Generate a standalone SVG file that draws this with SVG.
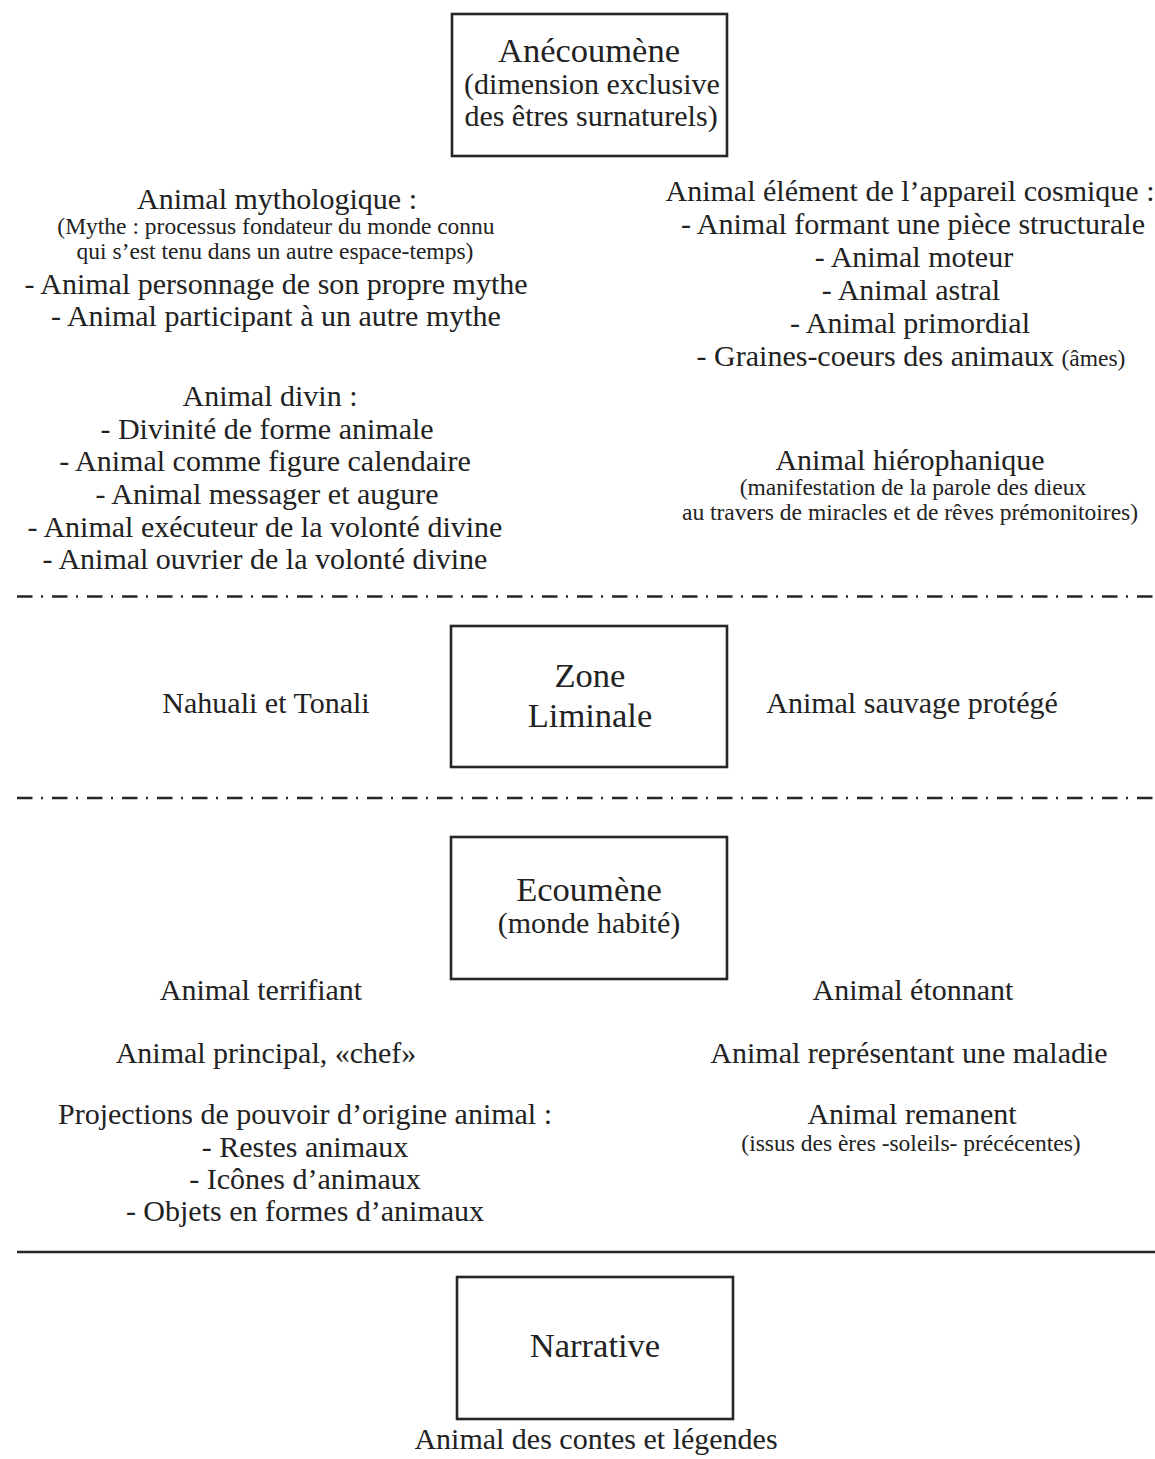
<svg xmlns="http://www.w3.org/2000/svg" width="1155" height="1459" viewBox="0 0 1155 1459">
<style>
  text { font-family: "Liberation Serif", "Times New Roman", serif; fill: #222; text-anchor: middle; }
  .t { font-size: 30px; }
  .h { font-size: 34.5px; }
  .s { font-size: 23.5px; }
  .box { fill: none; stroke: #262626; stroke-width: 2.6; }
  .dash { stroke: #262626; stroke-width: 2.6; stroke-dasharray: 15.5 8.5 2 9; fill: none; }
  .solid { stroke: #262626; stroke-width: 2.6; fill: none; }
</style>
<rect width="1155" height="1459" fill="#fff"/>

<g id="connectors">
  <line class="dash" x1="17" y1="596.5" x2="1155" y2="596.5"/>
  <line class="dash" x1="17" y1="798" x2="1155" y2="798"/>
  <line class="solid" x1="17" y1="1252" x2="1155" y2="1252"/>
</g>

<g id="anecoumene">
  <rect class="box" x="452" y="14" width="275" height="142"/>
  <text class="h" x="589" y="62">Anécoumène</text>
  <text class="t" x="592" y="94">(dimension exclusive</text>
  <text class="t" x="591" y="126">des êtres surnaturels)</text>
</g>

<g id="animal-mythologique">
  <text class="t" x="277" y="209">Animal mythologique :</text>
  <text class="s" x="276" y="234">(Mythe : processus fondateur du monde connu</text>
  <text class="s" x="275" y="259">qui s’est tenu dans un autre espace-temps)</text>
  <text class="t" x="276" y="294">- Animal personnage de son propre mythe</text>
  <text class="t" x="276" y="326">- Animal participant à un autre mythe</text>
</g>

<g id="animal-cosmique">
  <text class="t" x="910" y="201">Animal élément de l’appareil cosmique :</text>
  <text class="t" x="913" y="234">- Animal formant une pièce structurale</text>
  <text class="t" x="914" y="267">- Animal moteur</text>
  <text class="t" x="911" y="300">- Animal astral</text>
  <text class="t" x="910" y="333">- Animal primordial</text>
  <text class="t" x="911" y="366">- Graines-coeurs des animaux <tspan class="s">(âmes)</tspan></text>
</g>

<g id="animal-divin">
  <text class="t" x="270" y="406">Animal divin :</text>
  <text class="t" x="267" y="439">- Divinité de forme animale</text>
  <text class="t" x="265" y="471">- Animal comme figure calendaire</text>
  <text class="t" x="267" y="504">- Animal messager et augure</text>
  <text class="t" x="265" y="537">- Animal exécuteur de la volonté divine</text>
  <text class="t" x="265" y="569">- Animal ouvrier de la volonté divine</text>
</g>

<g id="animal-hierophanique">
  <text class="t" x="910" y="470">Animal hiérophanique</text>
  <text class="s" x="913" y="495">(manifestation de la parole des dieux</text>
  <text class="s" x="910" y="520">au travers de miracles et de rêves prémonitoires)</text>
</g>

<g id="zone-liminale">
  <rect class="box" x="451" y="626" width="276" height="141"/>
  <text class="h" x="590" y="687">Zone</text>
  <text class="h" x="590" y="727">Liminale</text>
</g>

<g id="nahuali">
  <text class="t" x="266" y="713">Nahuali et Tonali</text>
</g>

<g id="animal-sauvage">
  <text class="t" x="912" y="713">Animal sauvage protégé</text>
</g>

<g id="ecoumene">
  <rect class="box" x="451" y="837" width="276" height="142"/>
  <text class="h" x="589" y="901">Ecoumène</text>
  <text class="t" x="589" y="933">(monde habité)</text>
</g>

<g id="ecoumene-gauche">
  <text class="t" x="261" y="1000">Animal terrifiant</text>
  <text class="t" x="266" y="1063">Animal principal, «chef»</text>
  <text class="t" x="305" y="1124">Projections de pouvoir d’origine animal :</text>
  <text class="t" x="305" y="1157">- Restes animaux</text>
  <text class="t" x="305" y="1189">- Icônes d’animaux</text>
  <text class="t" x="305" y="1221">- Objets en formes d’animaux</text>
</g>

<g id="ecoumene-droite">
  <text class="t" x="913" y="1000">Animal étonnant</text>
  <text class="t" x="909" y="1063">Animal représentant une maladie</text>
  <text class="t" x="912" y="1124">Animal remanent</text>
  <text class="s" x="911" y="1151">(issus des ères -soleils- précécentes)</text>
</g>

<g id="narrative">
  <rect class="box" x="457" y="1277" width="276" height="142"/>
  <text class="h" x="595" y="1357">Narrative</text>
</g>

<g id="contes">
  <text class="t" x="596" y="1449">Animal des contes et légendes</text>
</g>
</svg>
